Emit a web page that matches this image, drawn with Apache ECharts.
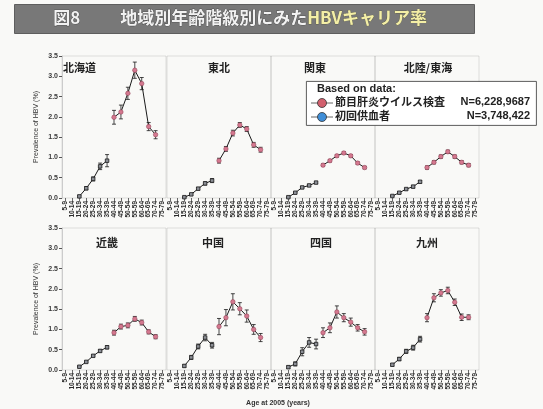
<!DOCTYPE html>
<html>
<head>
<meta charset="utf-8">
<script src="https://cdn.jsdelivr.net/npm/echarts@6/dist/echarts.min.js"></script>
<style>
  html, body { margin: 0; padding: 0; background: #f9f9f7; }
  #chart { width: 543px; height: 409px; }
</style>
</head>
<body>
<div id="chart"></div>
<script>
// Age groups on the x axis (age at 2005)
const ageGroups = ['5-9', '10-14', '15-19', '20-24', '25-29', '30-34', '35-39',
  '40-44', '45-49', '50-54', '55-59', '60-64', '65-69', '70-74', '75-79'];
const donorAges = ['15-19', '20-24', '25-29', '30-34', '35-39'];
const screeningAges = ['40-44', '45-49', '50-54', '55-59', '60-64', '65-69', '70-74'];

const regions = ['北海道', '東北', '関東', '北陸/東海', '近畿', '中国', '四国', '九州'];

// First-time blood donors: prevalence (%) and half-width of the 95% CI, per region
const donorRates = [
  [0.04, 0.24, 0.47, 0.78, 0.92],
  [0.02, 0.09, 0.23, 0.36, 0.43],
  [0.02, 0.13, 0.26, 0.31, 0.38],
  [0.05, 0.13, 0.22, 0.28, 0.40],
  [0.08, 0.20, 0.35, 0.47, 0.56],
  [0.10, 0.31, 0.58, 0.80, 0.61],
  [0.07, 0.15, 0.45, 0.68, 0.64],
  [0.13, 0.27, 0.46, 0.55, 0.76]
];
const donorErrors = [
  [0.02, 0.04, 0.05, 0.08, 0.15],
  [0.01, 0.02, 0.03, 0.04, 0.05],
  [0.01, 0.01, 0.02, 0.02, 0.02],
  [0.01, 0.02, 0.02, 0.03, 0.03],
  [0.01, 0.02, 0.02, 0.03, 0.04],
  [0.03, 0.05, 0.06, 0.08, 0.07],
  [0.03, 0.05, 0.10, 0.12, 0.12],
  [0.03, 0.04, 0.05, 0.06, 0.07]
];

// Hepatitis virus screening (節目検診): prevalence (%) and CI half-width, per region
const screeningRates = [
  [1.99, 2.12, 2.58, 3.15, 2.82, 1.76, 1.56],
  [0.92, 1.21, 1.60, 1.80, 1.70, 1.31, 1.19],
  [0.81, 0.92, 1.04, 1.11, 1.04, 0.86, 0.75],
  [0.75, 0.88, 1.02, 1.14, 1.02, 0.88, 0.81],
  [0.92, 1.07, 1.10, 1.26, 1.17, 0.94, 0.82],
  [1.07, 1.29, 1.68, 1.51, 1.33, 1.00, 0.80],
  [0.92, 1.04, 1.43, 1.29, 1.18, 1.04, 0.94],
  [1.29, 1.78, 1.90, 1.96, 1.67, 1.30, 1.30]
];
const screeningErrors = [
  [0.17, 0.17, 0.15, 0.20, 0.15, 0.10, 0.10],
  [0.06, 0.06, 0.07, 0.06, 0.06, 0.06, 0.06],
  [0.03, 0.03, 0.03, 0.03, 0.03, 0.03, 0.03],
  [0.04, 0.04, 0.04, 0.04, 0.04, 0.04, 0.04],
  [0.06, 0.06, 0.06, 0.06, 0.06, 0.05, 0.05],
  [0.20, 0.20, 0.20, 0.15, 0.15, 0.12, 0.10],
  [0.12, 0.12, 0.15, 0.10, 0.10, 0.08, 0.08],
  [0.10, 0.10, 0.08, 0.08, 0.08, 0.08, 0.06]
];

// Legend text
const legendTitle = 'Based on data:';
const legendRows = [
  { name: '節目肝炎ウイルス検査', n: 'N=6,228,9687' },
  { name: '初回供血者', n: 'N=3,748,422' }
];

const FONT = '"Liberation Sans", "Noto Sans CJK JP", sans-serif';
const JP = '"Noto Sans CJK JP", sans-serif';

// Panel layout
const colLeft = [62, 167, 271, 375];
const colWidth = 104;
const rowTop = [56, 228];
const rowHeight = 142;
const titleX = [63, 219, 315, 428, 107, 213, 321, 427];
const titleAlign = ['left', 'center', 'center', 'center', 'center', 'center', 'center', 'center'];
const titleY = [61, 236];

const chart = echarts.init(document.getElementById('chart'), null, { renderer: 'canvas' });

function errorBar(params, api) {
  const x = api.value(0);
  const v = api.value(1);
  const e = api.value(2);
  const lo = api.coord([x, v - e]);
  const hi = api.coord([x, v + e]);
  const w = 2;
  const st = { stroke: '#1a1a1a', lineWidth: 0.8 };
  return {
    type: 'group',
    children: [
      { type: 'line', shape: { x1: lo[0], y1: lo[1], x2: hi[0], y2: hi[1] }, style: st },
      { type: 'line', shape: { x1: lo[0] - w, y1: lo[1], x2: lo[0] + w, y2: lo[1] }, style: st },
      { type: 'line', shape: { x1: hi[0] - w, y1: hi[1], x2: hi[0] + w, y2: hi[1] }, style: st }
    ]
  };
}

const grids = [], xAxes = [], yAxes = [], series = [], titles = [];
regions.forEach((region, i) => {
  const r = Math.floor(i / 4), c = i % 4;
  grids.push({
    left: colLeft[c], top: rowTop[r], width: colWidth, height: rowHeight,
    show: true, borderColor: 'rgba(0,0,0,0.14)', borderWidth: 0.8
  });
  xAxes.push({
    type: 'category', gridIndex: i, data: ageGroups, boundaryGap: true,
    axisLine: { show: false },
    axisTick: { show: true, length: 3, alignWithLabel: true, lineStyle: { color: '#444', width: 0.8 } },
    axisLabel: { interval: 0, rotate: 90, fontSize: 6.5, color: '#2a2a2a', margin: 3, fontFamily: FONT, fontWeight: 'bold' }
  });
  yAxes.push({
    type: 'value', gridIndex: i, min: 0, max: 3.5, interval: 0.5,
    splitLine: { show: false },
    axisLine: { show: c === 0, lineStyle: { color: '#c4c4c4', width: 0.8 } },
    axisTick: { show: c === 0, length: 3, lineStyle: { color: '#555' } },
    axisLabel: { show: c === 0, fontSize: 7, color: '#3a3a3a', margin: 4, fontFamily: FONT, fontWeight: 'bold',
      formatter: v => v.toFixed(1) },
    name: c === 0 ? 'Prevalence of HBV (%)' : '',
    nameLocation: 'middle', nameGap: 22, nameRotate: 90,
    nameTextStyle: { fontSize: 7, color: '#333', fontFamily: FONT }
  });
  titles.push({
    text: region, left: titleX[i], top: titleY[r] + 1, textAlign: titleAlign[i], padding: 0,
    textStyle: { fontSize: 11, fontWeight: 'bold', color: '#222', fontFamily: JP }
  });

  const dIdx = donorAges.map(a => ageGroups.indexOf(a));
  const sIdx = screeningAges.map(a => ageGroups.indexOf(a));
  const donor = donorRates[i].map((v, k) => [dIdx[k], v, donorErrors[i][k]]);
  const screen = screeningRates[i].map((v, k) => [sIdx[k], v, screeningErrors[i][k]]);

  series.push({
    type: 'custom', xAxisIndex: i, yAxisIndex: i, renderItem: errorBar,
    data: donor, encode: { x: 0, y: 1 }, z: 2, silent: true
  });
  series.push({
    type: 'custom', xAxisIndex: i, yAxisIndex: i, renderItem: errorBar,
    data: screen, encode: { x: 0, y: 1 }, z: 2, silent: true
  });
  series.push({
    type: 'line', xAxisIndex: i, yAxisIndex: i, data: donor.map(d => [d[0], d[1]]),
    symbol: 'rect', symbolSize: 3.5, z: 3,
    itemStyle: { color: '#8c8f96', borderColor: '#1a1a1a', borderWidth: 0.8 },
    lineStyle: { color: '#1a1a1a', width: 1 }
  });
  series.push({
    type: 'line', xAxisIndex: i, yAxisIndex: i, data: screen.map(d => [d[0], d[1]]),
    symbol: 'circle', symbolSize: 4.5, z: 3,
    itemStyle: { color: '#d4788f', borderColor: '#8a3a4e', borderWidth: 0.5 },
    lineStyle: { color: '#1a1a1a', width: 1 }
  });
});

titles.push({
  text: 'Age at 2005 (years)', left: 278, top: 400, textAlign: 'center', padding: 0,
  textStyle: { fontSize: 7, fontWeight: 'bold', color: '#333', fontFamily: FONT }
});

// Banner heading and legend box
const legendMarkers = ['#d2606e', '#3f8ed8'];
const graphic = [
  { type: 'rect', left: 14, top: 4, shape: { width: 460, height: 29 },
    style: { fill: '#787878', stroke: '#5e5e5e', lineWidth: 1 }, z: 1 },
  { type: 'text', left: 53, top: 9, z: 2,
    style: { text: '図8', font: 'bold 17px ' + JP, fill: '#f2f2f2', stroke: '#3a3a3a', lineWidth: 0.6 } },
  { type: 'text', left: 120, top: 9, z: 2,
    style: { text: '地域別年齢階級別にみた', font: 'bold 17px ' + JP, fill: '#f2f2f2', stroke: '#3a3a3a', lineWidth: 0.6 } },
  { type: 'text', left: 307, top: 9, z: 2,
    style: { text: 'HBVキャリア率', font: 'bold 17px ' + JP, fill: '#f4efa6', stroke: '#4a4a2a', lineWidth: 0.4 } },
  { type: 'rect', left: 306, top: 81, shape: { width: 230, height: 44 },
    style: { fill: '#ffffff', stroke: '#333', lineWidth: 0.8 }, z: 10 },
  { type: 'text', left: 317, top: 83, z: 11,
    style: { text: legendTitle, font: 'bold 11px ' + FONT, fill: '#222' } }
];
legendRows.forEach((row, k) => {
  const y = 103 + k * 14;
  graphic.push({ type: 'line', z: 11, shape: { x1: 311, y1: y, x2: 333, y2: y },
    style: { stroke: '#666', lineWidth: 1 } });
  graphic.push({ type: 'circle', z: 12, shape: { cx: 322, cy: y, r: 4.5 },
    style: { fill: legendMarkers[k], stroke: '#333', lineWidth: 0.8 } });
  graphic.push({ type: 'text', z: 11, left: 335, top: y - 7,
    style: { text: row.name, font: 'bold 11px ' + JP, fill: '#222' } });
  graphic.push({ type: 'text', z: 11, right: 543 - 530, top: y - 7,
    style: { text: row.n, font: 'bold 11px ' + FONT, fill: '#222', textAlign: 'right' } });
});

chart.setOption({
  backgroundColor: '#f9f9f7',
  animation: false,
  title: titles,
  grid: grids,
  xAxis: xAxes,
  yAxis: yAxes,
  series: series,
  graphic: graphic
});
</script>
</body>
</html>
